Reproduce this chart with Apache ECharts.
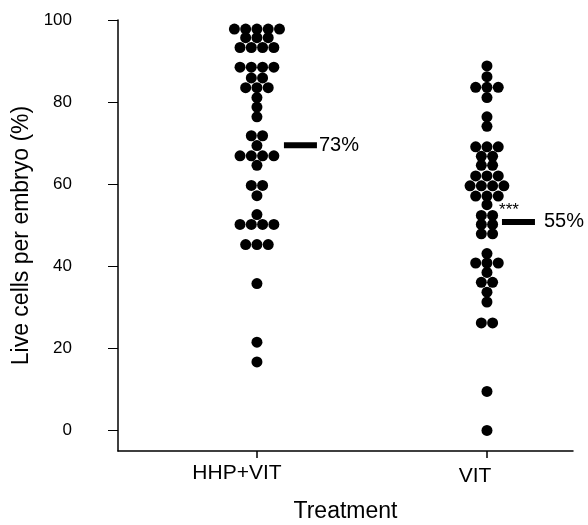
<!DOCTYPE html>
<html><head><meta charset="utf-8">
<script src="https://cdn.jsdelivr.net/npm/echarts@6/dist/echarts.min.js"></script>
<style>html,body{margin:0;padding:0;background:#fff}#c{width:588px;height:525px}</style>
</head><body><div id="c"></div>
<script>
// ---- data ----
const categories = ['HHP+VIT', 'VIT'];
const hhpVitValues = [
  97.8,97.8,97.8,97.8,97.8, 95.7,95.7,95.7, 93.3,93.3,93.3,93.3,
  88.5,88.5,88.5,88.5, 85.9,85.9, 83.5,83.5,83.5, 81.1, 78.8, 76.4,
  71.8,71.8, 69.4, 66.9,66.9,66.9,66.9, 64.6, 59.7,59.7, 57.2, 52.6,
  50.2,50.2,50.2,50.2, 45.3,45.3,45.3, 35.8, 21.5, 16.7
];
const vitValues = [
  88.8, 86.2, 83.6,83.6,83.6, 81.1, 76.4, 74.1, 69.1,69.1,69.1,
  66.8,66.8, 64.6,64.6, 62.0,62.0,62.0, 59.6,59.6,59.6,59.6,
  57.1,57.1,57.1, 55.0, 52.4,52.4, 50.2,50.2, 47.9,47.9, 43.1,
  40.8,40.8,40.8, 38.5, 36.1,36.1, 33.7, 31.3, 26.2,26.2, 9.5, 0
];
const meanBarValues = [69.5, 50.8];
const meanLabels = ['73%', '55%'];
const significance = {category: 'VIT', value: 54.6, text: '***'};
const yTicks = [0, 20, 40, 60, 80, 100];

// ---- build ----
const FONT = 'Liberation Sans, Arial, sans-serif';
const dotStep = 0.049; // horizontal spacing of stacked dots (x units)
function swarm(values, catIdx) {
  const groups = {};
  values.forEach(v => { (groups[v] = groups[v] || []).push(v); });
  const out = [];
  Object.keys(groups).forEach(k => {
    const g = groups[k], n = g.length;
    g.forEach((v, i) => out.push([catIdx + 1 + (i - (n - 1) / 2) * dotStep, v]));
  });
  return out;
}
const dots = swarm(hhpVitValues, 0).concat(swarm(vitValues, 1));
const barOffsets = [[43.5, 0], [31.5, 0]];
const labelDist = [2, 9];

const chart = echarts.init(document.getElementById('c'), null, {renderer: 'canvas'});
chart.setOption({
  animation: false,
  backgroundColor: '#fff',
  grid: {left: 118, right: 15, top: 20, bottom: 74, containLabel: false, outerBoundsMode: 'none'},
  xAxis: {
    type: 'value', min: 0.396, max: 2.374,
    name: 'Treatment', nameLocation: 'middle', nameGap: 49,
    nameTextStyle: {fontFamily: FONT, fontSize: 23, color: '#000'},
    axisLine: {show: true, onZero: false, lineStyle: {color: '#000', width: 1.5}},
    axisTick: {show: true, length: 7, customValues: [1, 2], lineStyle: {color: '#000', width: 1.5}},
    axisLabel: {
      customValues: [1, 2], margin: 12,
      formatter: v => (Math.round(v) === 1 ? '{a|' : '{b|') + categories[Math.round(v) - 1] + '}',
      rich: {
        a: {fontFamily: FONT, fontSize: 21, color: '#000', padding: [0, 40, 0, 0]},
        b: {fontFamily: FONT, fontSize: 21, color: '#000', padding: [3, 24, 0, 0]}
      }
    },
    splitLine: {show: false}
  },
  yAxis: {
    type: 'value', min: -5, max: 100,
    name: 'Live cells per embryo (%)', nameLocation: 'middle', nameGap: 82, nameRotate: 90,
    nameTextStyle: {fontFamily: FONT, fontSize: 23, color: '#000'},
    axisLine: {show: true, onZero: false, lineStyle: {color: '#000', width: 1.5}},
    axisTick: {show: true, length: 10, customValues: yTicks, lineStyle: {color: '#000', width: 1}},
    axisLabel: {customValues: yTicks, margin: 46, fontFamily: FONT, fontSize: 17, color: '#000'},
    splitLine: {show: false}
  },
  series: [
    {
      type: 'scatter', data: dots, symbol: 'circle', symbolSize: 11,
      itemStyle: {color: '#000', opacity: 1}, silent: true
    },
    {
      type: 'scatter', silent: true, symbol: 'rect',
      data: meanBarValues.map((v, i) => ({
        value: [i + 1, v],
        symbolOffset: barOffsets[i],
        label: {show: true, position: 'right', distance: labelDist[i], formatter: meanLabels[i]}
      })),
      symbolSize: [33, 6], itemStyle: {color: '#000', opacity: 1},
      label: {fontFamily: FONT, fontSize: 20, color: '#000'}
    },
    {
      type: 'scatter', silent: true, symbol: 'circle', symbolSize: 0,
      itemStyle: {opacity: 1},
      data: [{value: [categories.indexOf(significance.category) + 1, significance.value]}],
      label: {show: true, position: 'inside', offset: [22, 4], formatter: significance.text,
              fontFamily: FONT, fontSize: 17, color: '#000'}
    }
  ]
});
</script></body></html>
